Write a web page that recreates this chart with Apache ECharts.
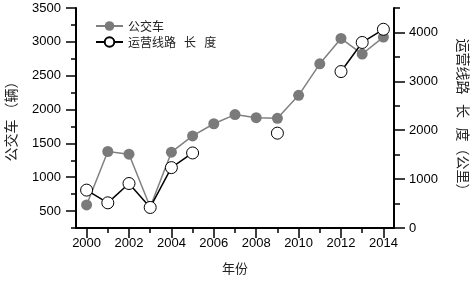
<!DOCTYPE html>
<html>
<head>
<meta charset="utf-8">
<script src="https://cdn.jsdelivr.net/npm/echarts@6/dist/echarts.min.js"></script>
<style>
  html, body { margin: 0; padding: 0; background: #fff; }
  #chart { width: 472px; height: 282px; }
</style>
</head>
<body>
<div id="chart"></div>
<script>
var years = ['2000', '2001', '2002', '2003', '2004', '2005', '2006', '2007',
             '2008', '2009', '2010', '2011', '2012', '2013', '2014'];
// 公交车（辆）
var busCount = [590, 1380, 1340, 560, 1370, 1610, 1790, 1925,
                1880, 1870, 2210, 2675, 3050, 2820, 3070];
// 运营线路长度（公里）
var routeLength = [775, 515, 910, 420, 1235, 1535, null, null,
                   null, 1940, null, null, 3200, 3795, 4065];
var leftMajor = [500, 1000, 1500, 2000, 2500, 3000, 3500];
var rightMajor = [0, 1000, 2000, 3000, 4000];

var txtFont = 'Liberation Sans, Arial, Noto Sans CJK SC, sans-serif';
var cjkFont = 'Noto Sans CJK SC, sans-serif';

var myChart = echarts.init(document.getElementById('chart'));

var lineStyle = { color: '#000', width: 2 };
var tickStyle = { color: '#000', width: 1.5 };

myChart.setOption({
    animation: false,
    grid: { left: 76, right: 78, top: 8, bottom: 54, outerBoundsMode: 'none', containLabel: false },
    legend: {
        orient: 'vertical',
        left: 90,
        top: 15,
        itemGap: 4,
        itemWidth: 27,
        itemHeight: 12,
        textStyle: { fontFamily: cjkFont, fontSize: 12, color: '#222' },
        data: ['公交车', '运营线路   长   度']
    },
    xAxis: [
        {
            type: 'category',
            data: years,
            boundaryGap: true,
            name: '年份',
            nameLocation: 'middle',
            nameGap: 34,
            nameTextStyle: { fontFamily: cjkFont, fontSize: 13, color: '#222' },
            axisLine: { lineStyle: lineStyle },
            axisTick: { show: true, alignWithLabel: true, interval: 0, length: 5, lineStyle: tickStyle },
            axisLabel: { interval: 1, margin: 9, fontFamily: txtFont, fontSize: 13, color: '#000' },
            splitLine: { show: false }
        },
        {
            type: 'category',
            data: years,
            position: 'bottom',
            boundaryGap: true,
            axisLine: { show: false },
            axisTick: { show: true, alignWithLabel: true, interval: 1, length: 10, lineStyle: tickStyle },
            axisLabel: { show: false },
            splitLine: { show: false }
        }
    ],
    yAxis: [
        {
            type: 'value',
            position: 'left',
            min: 250, max: 3500, interval: 250,
            name: '公交车 （辆）',
            nameLocation: 'middle',
            nameGap: 58,
            nameTextStyle: { fontFamily: cjkFont, fontSize: 14, color: '#222' },
            axisLine: { show: true, lineStyle: lineStyle },
            axisTick: { show: true, length: 5, lineStyle: tickStyle },
            axisLabel: {
                margin: 15,
                fontFamily: txtFont, fontSize: 13, color: '#000',
                formatter: function (v) { return v % 500 === 0 ? String(v) : ''; }
            },
            splitLine: { show: false }
        },
        {
            type: 'value',
            position: 'right',
            min: 0, max: 4500, interval: 500,
            name: '运营线路   长   度（公里）',
            nameLocation: 'middle',
            nameGap: 62,
            nameRotate: -90,
            nameTextStyle: { fontFamily: cjkFont, fontSize: 14, color: '#222' },
            axisLine: { show: true, lineStyle: lineStyle },
            axisTick: { show: true, length: 6, lineStyle: tickStyle },
            axisLabel: {
                margin: 15,
                fontFamily: txtFont, fontSize: 13, color: '#000',
                formatter: function (v) { return v % 1000 === 0 ? String(v) : ''; }
            },
            splitLine: { show: false }
        },
        {
            type: 'value',
            position: 'left',
            min: 250, max: 3500,
            axisLine: { show: false },
            axisTick: { show: true, customValues: leftMajor, length: 10, lineStyle: tickStyle },
            axisLabel: { show: false },
            splitLine: { show: false }
        },
        {
            type: 'value',
            position: 'right',
            min: 0, max: 4500,
            axisLine: { show: false },
            axisTick: { show: true, customValues: rightMajor, length: 11, lineStyle: tickStyle },
            axisLabel: { show: false },
            splitLine: { show: false }
        }
    ],
    series: [
        {
            name: '公交车',
            type: 'line',
            yAxisIndex: 0,
            data: busCount,
            symbol: 'circle',
            symbolSize: 11,
            itemStyle: { color: '#7a7a7a' },
            lineStyle: { color: '#808080', width: 1.5 }
        },
        {
            name: '运营线路   长   度',
            type: 'line',
            yAxisIndex: 1,
            data: routeLength,
            connectNulls: false,
            symbol: 'circle',
            symbolSize: 12,
            itemStyle: { color: '#fff', borderColor: '#000', borderWidth: 1 },
            lineStyle: { color: '#000', width: 1.5 }
        }
    ]
});
</script>
</body>
</html>
